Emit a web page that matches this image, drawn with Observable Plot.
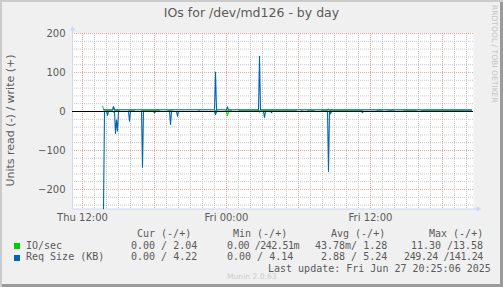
<!DOCTYPE html>
<html><head><meta charset="utf-8">
<script src="https://cdn.jsdelivr.net/npm/d3@7"></script>
<script src="https://cdn.jsdelivr.net/npm/@observablehq/plot@0.6"></script>
<style>
html,body{margin:0;padding:0;background:#f0f0f0;}
#wrap{position:relative;width:503px;height:287px;background:#f0f0f0;overflow:hidden;
  box-shadow: inset 2px 2px 0 #cbcbcb, inset -3px -3px 0 #9a9a9a;}
#wrap svg{position:absolute;left:0;top:0;}
.t{position:absolute;white-space:pre;line-height:1;color:#5a5a5a;}
.sans{font-family:"DejaVu Sans";}
.mono{font-family:"DejaVu Sans Mono";font-size:10px;}
.sq{position:absolute;width:6px;height:6px;}
</style></head><body><div id="wrap"></div>
<script>
// ---------- data ----------
const title = "IOs for /dev/md126 - by day";
const yLabel = "Units read (-) / write (+)";
const yTicks = [-200, -100, 0, 100, 200];
const xTickTimes = ["2025-06-26T12:00", "2025-06-27T00:00", "2025-06-27T12:00"];
const xDomain = ["2025-06-26T11:10", "2025-06-27T20:35"];

// Req Size (KB), write (+)
const reqWriteT = ["2025-06-26T13:45","2025-06-26T14:30","2025-06-26T14:35","2025-06-26T14:40",
  "2025-06-26T23:00","2025-06-26T23:05","2025-06-26T23:10","2025-06-27T00:00","2025-06-27T00:05",
  "2025-06-27T00:10","2025-06-27T02:40","2025-06-27T02:45","2025-06-27T02:50","2025-06-27T20:25"];
const reqWriteV = [4.6,4.4,13.0,4.5, 4.4,101.0,4.3,4.4,12.0, 4.3,4.4,141.24,4.3,4.22];

// Req Size (KB), read (-)
const reqReadT = ["2025-06-26T13:45","2025-06-26T13:50","2025-06-26T14:00","2025-06-26T14:05","2025-06-26T14:10",
  "2025-06-26T14:40","2025-06-26T14:45","2025-06-26T14:50","2025-06-26T14:55","2025-06-26T15:00",
  "2025-06-26T15:50","2025-06-26T15:55","2025-06-26T16:00","2025-06-26T16:55","2025-06-26T17:00","2025-06-26T17:05",
  "2025-06-26T17:55","2025-06-26T18:00","2025-06-26T18:05","2025-06-26T19:15","2025-06-26T19:20","2025-06-26T19:25",
  "2025-06-26T19:50","2025-06-26T19:55","2025-06-26T20:00","2025-06-26T23:00","2025-06-26T23:05","2025-06-26T23:10",
  "2025-06-27T03:05","2025-06-27T03:10","2025-06-27T03:15","2025-06-27T03:40","2025-06-27T03:45","2025-06-27T03:50",
  "2025-06-27T08:25","2025-06-27T08:30","2025-06-27T08:35","2025-06-27T08:40","2025-06-27T08:45",
  "2025-06-27T11:15","2025-06-27T11:20","2025-06-27T11:25","2025-06-27T20:25"];
const reqReadV = [249.24,0,0,10,0, 0,56,22,50,0, 0,25,0,0,143,0, 0,4,0,0,33,0, 0,12,0,0,8,0,
  0,15,0,0,3,0, 0,153,0,6,0, 0,3,0,0];

// IO/sec, write (+)
const ioWriteT = ["2025-06-26T13:40","2025-06-26T13:45","2025-06-26T13:50","2025-06-26T13:55","2025-06-26T14:30",
  "2025-06-26T14:35","2025-06-26T14:40","2025-06-26T15:05","2025-06-26T15:10","2025-06-26T15:45","2025-06-26T15:50",
  "2025-06-26T16:20","2025-06-26T16:25","2025-06-26T16:50","2025-06-26T16:55","2025-06-26T18:25","2025-06-26T18:30",
  "2025-06-26T19:00","2025-06-26T19:05","2025-06-26T19:30","2025-06-26T19:35","2025-06-26T21:35","2025-06-26T21:40",
  "2025-06-26T21:45","2025-06-26T21:50","2025-06-26T22:55","2025-06-26T23:00","2025-06-26T23:15","2025-06-26T23:20",
  "2025-06-26T23:50","2025-06-26T23:55","2025-06-27T00:25","2025-06-27T00:30","2025-06-27T00:55","2025-06-27T01:00",
  "2025-06-27T05:50","2025-06-27T05:55","2025-06-27T06:10","2025-06-27T06:15","2025-06-27T06:20","2025-06-27T06:25",
  "2025-06-27T06:40","2025-06-27T06:45","2025-06-27T07:20","2025-06-27T07:25","2025-06-27T07:50","2025-06-27T07:55",
  "2025-06-27T08:25","2025-06-27T08:30","2025-06-27T08:35","2025-06-27T11:20","2025-06-27T11:25","2025-06-27T12:25",
  "2025-06-27T12:30","2025-06-27T13:00","2025-06-27T13:05","2025-06-27T13:20","2025-06-27T13:25","2025-06-27T14:00",
  "2025-06-27T14:05","2025-06-27T14:40","2025-06-27T14:45","2025-06-27T15:50","2025-06-27T15:55","2025-06-27T16:10",
  "2025-06-27T16:15","2025-06-27T20:25"];
const ioWriteV = [13.58,8,3,2.2,2.2, 11,2.5,2.2,0.3,0.3,2.2, 2.2,0.3,0.3,2.2,2.2,0.3, 0.3,2.2,2.2,0.3,0.3,2.2,
  2.2,0.3,0.3,2.2,2.2,0.3, 0.3,2.2,2.2,0.3,0.3,2.2, 2.2,0.3,0.3,2.2,2.2,0.3, 0.3,2.2,2.2,0.3,0.3,2.2,
  2.2,7,2.2,2.2,0.3,0.3, 2.2,2.2,0.3,0.3,2.2,2.2, 0.3,0.3,2.2,2.2,0.3,0.3, 2.2,2.04];

// IO/sec, read (-)
const ioReadT = ["2025-06-26T13:40","2025-06-26T14:30","2025-06-26T14:35","2025-06-26T14:40","2025-06-26T23:00",
  "2025-06-26T23:05","2025-06-26T23:10","2025-06-27T00:00","2025-06-27T00:05","2025-06-27T00:10","2025-06-27T02:40",
  "2025-06-27T02:45","2025-06-27T02:50","2025-06-27T20:25"];
const ioReadV = [0,0,2,0,0, 6,0,0,11.30,0,0, 2,0,0];

// legend
const legendHeaders = ["Cur (-/+)", "Min (-/+)", "Avg (-/+)", "Max (-/+)"];
const ioLegend = ["0.00 / 2.04", "0.00 /242.51m", "43.78m/ 1.28", "11.30 /13.58"];
const reqLegend = ["0.00 / 4.22", "0.00 / 4.14", "2.88 / 5.24", "249.24 /141.24"];
const lastUpdate = "Last update: Fri Jun 27 20:25:06 2025";

// ---------- build ----------
const green = "#00CC00", blue = "#0066B3", axisColor = "#CFD6F8";
const parse = s => new Date(s + ":00Z");
const rows = (ts, vs, sign) => ts.map((t, i) => ({t: parse(t), v: sign * vs[i]}));
const ioRead = rows(ioReadT, ioReadV, -1), ioWrite = rows(ioWriteT, ioWriteV, 1);
const reqRead = rows(reqReadT, reqReadV, -1), reqWrite = rows(reqWriteT, reqWriteV, 1);
const x0 = parse(xDomain[0]), x1 = parse(xDomain[1]);
const hours = d3.utcHour.range(x0, x1);
const vMajor = hours.filter(d => d.getUTCHours() % 6 === 0);
const vMinor = hours.filter(d => d.getUTCHours() % 6 !== 0);
const hMinor = d3.range(-240, 201, 20).filter(v => v % 100 !== 0);
const hMajor = yTicks.filter(v => v !== 0);
const minorStyle = {stroke: "#c8c8c8", strokeDasharray: "1,1"};
const majorStyle = {stroke: "#f2a0a0", strokeDasharray: "1,1"};

const chart = Plot.plot({
  width: 503, height: 287,
  marginLeft: 72, marginRight: 30, marginTop: 33, marginBottom: 78.5,
  style: {background: "transparent", fontFamily: "DejaVu Sans", fontSize: "10px", color: "#5a5a5a", overflow: "visible"},
  x: {type: "utc", domain: [x0, x1], label: null},
  y: {domain: [-250, 200], label: null},
  marks: [
    Plot.frame({fill: "white", stroke: "none"}),
    Plot.ruleX(vMinor, minorStyle),
    Plot.ruleY(hMinor, minorStyle),
    Plot.ruleX(vMajor, majorStyle),
    Plot.ruleY(hMajor, majorStyle),
    Plot.ruleX([x0], {stroke: axisColor, insetTop: -5}),
    Plot.ruleY([-250], {stroke: axisColor, insetRight: -4}),
    Plot.dot([0], {frameAnchor: "top-left", symbol: "triangle", r: 2, fill: axisColor, stroke: "none", dy: -4.5}),
    Plot.dot([0], {frameAnchor: "bottom-right", symbol: "triangle", rotate: 90, r: 2, fill: axisColor, stroke: "none", dx: 4.5}),
    Plot.line(ioRead, {x: "t", y: "v", stroke: green, strokeWidth: 1}),
    Plot.line(ioWrite, {x: "t", y: "v", stroke: green, strokeWidth: 1}),
    Plot.line(reqRead, {x: "t", y: "v", stroke: blue, strokeWidth: 1.1}),
    Plot.line(reqWrite, {x: "t", y: "v", stroke: blue, strokeWidth: 1.1}),
    Plot.ruleY([0], {stroke: "black", strokeWidth: 1}),
    Plot.axisY(yTicks, {tickSize: 0, tickPadding: 7, fontSize: 10, label: null}),
    Plot.axisX(xTickTimes.map(parse), {tickSize: 0, tickPadding: 5, fontSize: 10, label: null, tickFormat: d3.utcFormat("%a %H:%M")})
  ]
});
const wrap = document.getElementById("wrap");
wrap.appendChild(chart);

function addText(txt, cls, css) {
  const d = document.createElement("div");
  d.className = "t " + cls;
  d.textContent = txt;
  Object.assign(d.style, css);
  wrap.appendChild(d);
  return d;
}
// cells: [text, left, right]; long cells are squeezed slightly to keep their extent
function addCell(txt, left, right, top) {
  const natural = txt.length * 6.02;
  const ls = Math.min(0, ((right - left) - natural) / txt.length);
  addText(txt, "mono", {left: left + "px", top: top + "px", letterSpacing: ls.toFixed(2) + "px"});
}
addText(title, "sans", {left: "0px", width: "503px", textAlign: "center", top: "7px", fontSize: "12.5px"});
addText(yLabel, "sans", {left: "-89.9px", width: "200px", textAlign: "center", top: "114.5px", height: "11px", fontSize: "11px", transform: "rotate(-90deg)"});
addText("RRDTOOL / TOBI OETIKER", "sans", {left: "418.8px", width: "150px", height: "7.6px", textAlign: "center", top: "50.2px", fontSize: "7.6px", color: "#c4c4c4", transform: "rotate(90deg)"});

const hdrX = [137, 233, 331, 429];
legendHeaders.forEach((h, i) => addText(h, "mono", {left: hdrX[i] + "px", top: "228.5px"}));
const ioX = [[131, 198], [227, 299], [315, 388], [411, 483]];
const reqX = [[131, 198], [227, 294], [321, 388], [404, 483]];
addText("IO/sec", "mono", {left: "26px", top: "240.5px"});
addText("Req Size (KB)", "mono", {left: "26px", top: "252.4px"});
ioLegend.forEach((s, i) => addCell(s, ioX[i][0], ioX[i][1], 240.5));
reqLegend.forEach((s, i) => addCell(s, reqX[i][0], reqX[i][1], 252.4));
addText(lastUpdate, "mono", {left: "268px", top: "264.2px"});
addText("Munin 2.0.63", "sans", {left: "227px", top: "272.6px", fontSize: "7.6px", color: "#cdcdcd"});
[[green, 243], [blue, 255]].forEach(([c, y]) => {
  const s = document.createElement("div");
  s.className = "sq"; s.style.background = c; s.style.left = "14px"; s.style.top = y + "px";
  wrap.appendChild(s);
});
</script></body></html>
